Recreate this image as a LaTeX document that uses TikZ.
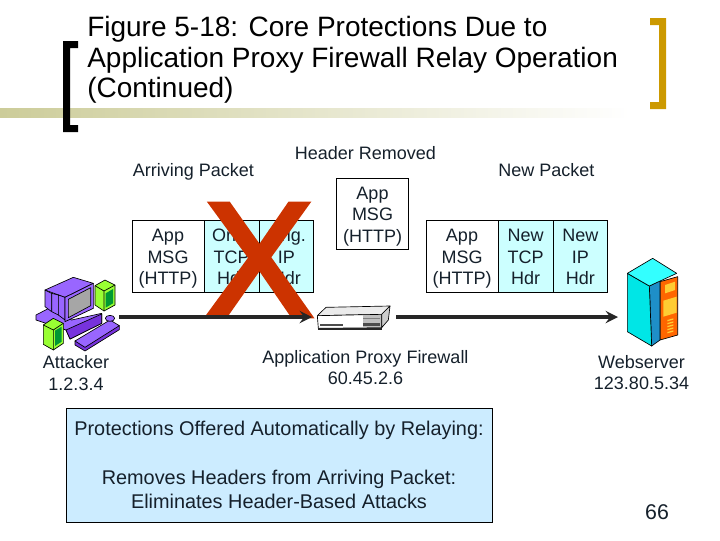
\documentclass[tikz,border=0pt]{standalone}
\usepackage{fontspec}
\setmainfont{Liberation Sans}
\newfontfamily\crossfont[FakeBold=3]{Liberation Sans}
\usetikzlibrary{arrows}
\definecolor{inkdark}{HTML}{15202B}
\definecolor{hdrcyan}{HTML}{CCFFFF}
\definecolor{notecyan}{HTML}{CCECFF}
\definecolor{olivebar}{HTML}{CCCC99}
\definecolor{goldbrk}{HTML}{CC9900}
\definecolor{crossred}{HTML}{CC3300}
\definecolor{pcviolet}{HTML}{9966FF}
\definecolor{pcdark}{HTML}{7733DD}
\definecolor{towerlime}{HTML}{99FF33}
\definecolor{towergreen}{HTML}{009933}
\definecolor{srvcyan}{HTML}{00E6E6}
\definecolor{srvtop}{HTML}{33FFFF}
\definecolor{srvblue}{HTML}{1E8FC8}
\definecolor{srvorange}{HTML}{FF6600}
\definecolor{srvyellow}{HTML}{FFCC33}
\tikzstyle{label} = [align=center, inner sep=0pt, text=inkdark, font=\fontsize{13.5}{16.1}\selectfont]
\tikzstyle{msg} = [label, rectangle, draw=black, line width=0.6pt, minimum width=54pt, minimum height=53.6pt, fill=white, text height=42pt, text depth=0pt]
\tikzstyle{hdr} = [msg, fill=hdrcyan, minimum width=41pt]
\tikzstyle{icon} = [rectangle, minimum width=1pt, minimum height=1pt, inner sep=0pt]
\tikzstyle{arrow} = [line width=3pt,->,>=stealth,color=black!85]
\tikzstyle{part} = [draw=black, line width=0.5pt, line join=round]
\begin{document}
\begin{tikzpicture}[x=0.75pt,y=-0.75pt]
			\useasboundingbox (0,0) rectangle (720,540);
			\fill [left color=olivebar, right color=white] (0,108) rectangle (630,117);
			% brackets
			\fill [black] (63,41) -- (78,41) -- (78,48) -- (70,48) -- (70,125) -- (78,125) -- (78,132) -- (63,132) -- cycle;
			\fill [goldbrk] (650,18) -- (666,18) -- (666,109) -- (650,109) -- (650,102) -- (659,102) -- (659,25) -- (650,25) -- cycle;

			\node (title) [anchor=north west, align=left, inner sep=0pt, text=black, font=\fontsize{21}{22.9}\selectfont] at (87,16) {Figure 5-18: Core Protections Due to\\Application Proxy Firewall Relay Operation\\(Continued)};

			\node (arrlabel) [label] at (193.5,172) {Arriving Packet};
			\node (remlabel) [label] at (365.5,153) {Header Removed};
			\node (newlabel) [label] at (546.5,170) {New Packet};

			% arriving packet
			\node (app1) [msg] at (168,256.5) {App\\MSG\\(HTTP)};
			\node (tcp1) [hdr, right of=app1, node distance=47.7pt] {Orig.\\TCP\\Hdr};
			\node (ip1) [hdr, right of=tcp1, node distance=41pt] {Orig.\\IP\\Hdr};
			\node (app2) [msg] at (372.5,214) {App\\MSG\\(HTTP)};
			% new packet
			\node (app3) [msg] at (462,256.5) {App\\MSG\\(HTTP)};
			\node (tcp3) [hdr, right of=app3, node distance=47.7pt] {New\\TCP\\Hdr};
			\node (ip3) [hdr, right of=tcp3, node distance=41pt] {New\\IP\\Hdr};

			\node (cross) [inner sep=0pt, text=crossred, font=\fontsize{122}{122}\crossfont] at (259,260) {X};

			\node (attacker) [icon] at (76,310) {};
			\node (firewall) [icon] at (355,317) {};
			\node (server) [icon] at (656,316) {};
			\coordinate (attout) at (119,317);
			\coordinate (fwin) at (312,317);
			\coordinate (fwout) at (396,317);
			\coordinate (srvin) at (618,317);

			% attacker pc
			\begin{scope}[shift={(30,265)},x=0.25pt,y=-0.25pt]
				\fill [part, fill=pcviolet] (18,150) -- (60,128) -- (125,165) -- (215,145) -- (215,175) -- (120,222) -- (108,195) -- (18,165) -- cycle;
				\fill [part, fill=pcdark] (108,195) -- (215,147) -- (215,175) -- (120,222) -- cycle;
				\fill [part, fill=pcviolet] (45,75) -- (130,37) -- (190,55) -- (105,97) -- cycle;
				\fill [part, fill=pcviolet] (45,75) -- (65,85) -- (65,140) -- (45,125) -- cycle;
				\fill [part, fill=pcviolet] (65,85) -- (85,90) -- (85,150) -- (65,140) -- cycle;
				\fill [part, fill=pcviolet] (85,90) -- (105,97) -- (105,165) -- (85,150) -- cycle;
				\fill [part, fill=pcviolet] (105,97) -- (190,55) -- (190,130) -- (105,170) -- cycle;
				\fill [part, fill=black!35] (115,103) -- (182,68) -- (182,122) -- (115,158) -- cycle;
				\fill [part, fill=pcdark] (135,228) -- (135,240) -- (165,258) -- (268,194) -- (268,182) -- cycle;
				\fill [part, fill=pcviolet] (135,228) -- (240,165) -- (268,182) -- (165,247) -- cycle;
				\fill [part, fill=pcviolet] (240,160) ellipse (14 and 9);
				% towers
				\fill [part, fill=towerlime] (195,62) -- (225,45) -- (255,60) -- (255,120) -- (222,138) -- (195,120) -- cycle;
				\draw [part] (195,62) -- (222,78) -- (255,60) (222,78) -- (222,138);
				\fill [towergreen] (227,85) -- (249,72) -- (249,115) -- (227,128) -- cycle;
				\fill [part, fill=towerlime] (40,180) -- (70,160) -- (100,175) -- (100,235) -- (70,255) -- (40,238) -- cycle;
				\draw [part] (40,180) -- (70,195) -- (100,175) (70,195) -- (70,255);
				\fill [towergreen] (75,197) -- (95,185) -- (95,230) -- (75,243) -- cycle;
			\end{scope}

			% firewall box
			\begin{scope}[shift={(310,295)},x=0.25pt,y=-0.25pt]
				\fill [part, fill=black!8] (22,62) -- (48,37) -- (240,33) -- (215,58) -- cycle;
				\fill [part, fill=white] (22,62) -- (215,58) -- (215,98) -- (25,100) -- cycle;
				\fill [part, fill=black!20] (215,58) -- (240,33) -- (235,75) -- (215,98) -- cycle;
				\fill [black!25] (158,61) rectangle (212,96);
				\fill [black!70] (160,84) rectangle (210,92);
				\fill [black!50] (160,68) rectangle (210,73);
				\fill [black!70] (30,86) rectangle (100,93);
				\fill [black!85] (25,98) rectangle (215,105);
			\end{scope}

			% webserver
			\begin{scope}[shift={(610,240)},x=0.25pt,y=-0.25pt]
				\fill [part, fill=srvorange] (150,125) -- (203,110) -- (203,285) -- (150,300) -- cycle;
				\fill [part, fill=srvblue] (118,138) -- (150,122) -- (150,300) -- (125,318) -- cycle;
				\fill [part, fill=srvcyan] (52,100) -- (118,138) -- (125,318) -- (52,275) -- cycle;
				\fill [part, fill=srvtop] (52,100) -- (128,55) -- (200,100) -- (118,138) -- cycle;
				\fill [srvyellow] (165,135) -- (195,125) -- (195,150) -- (165,160) -- cycle;
				\fill [srvyellow] (160,182) -- (200,170) -- (200,218) -- (160,230) -- cycle;
				\foreach \i in {0,1,2,3,4}
					\fill [srvyellow] (172,{240+\i*9}) -- (190,{235+\i*9}) -- (190,{239+\i*9}) -- (172,{244+\i*9}) -- cycle;
			\end{scope}

			\draw [arrow] (attout) -- (fwin);
			\draw [arrow] (fwout) -- (srvin);

			\node (attname) [label] at (76,373) {Attacker\\1.2.3.4};
			\node (fwname) [label] at (365.5,367.5) {Application Proxy Firewall\\60.45.2.6};
			\node (srvname) [label] at (641.5,372.5) {Webserver\\123.80.5.34};

			\node (note) [label, rectangle, draw=black, line width=0.6pt, fill=notecyan, minimum width=320pt, minimum height=85.5pt] at (279.5,465) {};
			\node (notetop) [label, font=\fontsize{14.9}{18}\selectfont] at (279,430.5) {Protections Offered Automatically by Relaying:};
			\node (notebot) [label, font=\fontsize{14.9}{18}\selectfont] at (279,489) {Removes Headers from Arriving Packet:\\Eliminates Header-Based Attacks};

			\node (pageno) [label, font=\fontsize{16}{18}\selectfont] at (657,512) {66};
		\end{tikzpicture}
\end{document}
